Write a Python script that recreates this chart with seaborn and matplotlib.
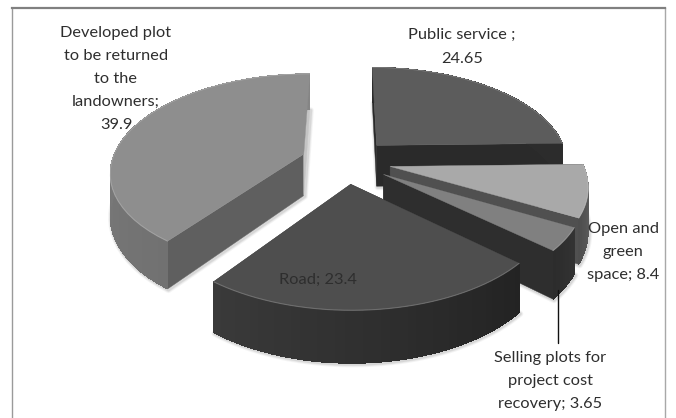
import numpy as np
import matplotlib
matplotlib.use("Agg")
import matplotlib.pyplot as plt
from matplotlib.patches import Polygon
import seaborn as sns

# Land allocation shares, clockwise from twelve o'clock
categories = ["Public service", "Open and green space",
              "Selling plots for project cost recovery", "Road",
              "Developed plot to be returned to the landowners"]
shares = [24.65, 8.4, 3.65, 23.4, 39.9]
label_lines = ["Public service ;\n24.65", "Open and\ngreen\nspace; 8.4",
               "Selling plots for\nproject cost\nrecovery; 3.65", "Road; 23.4",
               "Developed plot\nto be returned\nto the\nlandowners;\n39.9"]
label_spots = [(462, 47), (623, 252), (550, 381), (318, 280), (116, 79)]

# Shades per slice: top face, arc wall (start, end), start wall, end wall
top_shades = ["#5c5c5c", "#a9a9a9", "#808080", "#4e4e4e", "#8e8e8e"]
arc_shades = [("#2c2c2c", "#2c2c2c"), ("#6a6a6a", "#4e4e4e"), ("#333333", "#2c2c2c"),
              ("#232323", "#3a3a3a"), ("#717171", "#858585")]
start_shades = ["#2a2a2a", "#2c2c2c", "#2e2e2e", "#242424", "#5f5f5f"]
end_shades = ["#2a2a2a", "#505050", "#2e2e2e", "#3a3a3a", "#c4c4c4"]

CENTER = (346.0, 161.0)
RADIUS = 192.0
SQUASH = 0.5
PERSPECTIVE = 0.168
EXPLODE = 45.0
HEIGHT = 42.0

sns.set_theme(style="white")
plt.rcParams["font.family"] = ["Lato", "DejaVu Sans"]

fig = plt.figure(figsize=(6.76, 4.18), dpi=100, facecolor="white")
ax = fig.add_axes([11.5 / 676, 0, (665 - 11.5) / 676, (418 - 8) / 418])
ax.set_xlim(11.5, 665)
ax.set_ylim(418, 8)
ax.set_xticks([])
ax.set_yticks([])
ax.spines["bottom"].set_visible(False)
ax.spines["top"].set_color("#808080")
ax.spines["top"].set_linewidth(1.6)
ax.spines["left"].set_color("#9a9a9a")
ax.spines["left"].set_linewidth(1.0)
ax.spines["right"].set_color("#a8a8a8")
ax.spines["right"].set_linewidth(1.0)


def project(wx, wy, drop=0.0):
    """Map ground-plane points to the canvas with a simple perspective."""
    d = 1 + PERSPECTIVE * np.asarray(wy) / RADIUS
    return np.column_stack([CENTER[0] + np.asarray(wx) / d,
                            CENTER[1] - SQUASH * np.asarray(wy) / d + drop / d])


def blend(c0, c1, t):
    a, b = np.array(matplotlib.colors.to_rgb(c0)), np.array(matplotlib.colors.to_rgb(c1))
    return a + (b - a) * t


edges = np.radians(np.cumsum([0.0] + shares) * 3.6)
draw_order = [0, 4, 1, 2, 3]

for i in draw_order:
    t0, t1 = edges[i], edges[i + 1]
    mid = (t0 + t1) / 2
    ex, ey = EXPLODE * np.sin(mid), EXPLODE * np.cos(mid)
    th = np.linspace(t0, t1, 40)
    wx = ex + RADIUS * np.sin(th)
    wy = ey + RADIUS * np.cos(th)
    rim_top = project(wx, wy)
    rim_low = project(wx, wy, HEIGHT)
    apex_top = project([ex], [ey])
    apex_low = project([ex], [ey], HEIGHT)

    # Soft drop shadow below the solid
    outline = np.vstack([apex_low, rim_low])
    for lw, alpha in [(4.5, 0.04), (3.2, 0.05), (2, 0.07)]:
        ax.add_patch(Polygon(outline + [1, 1], closed=True, facecolor="none",
                             edgecolor=(0, 0, 0, alpha), linewidth=lw,
                             joinstyle="round"))

    # Radial walls
    ax.add_patch(Polygon(np.vstack([apex_top, rim_top[0], rim_low[0], apex_low]),
                         closed=True, facecolor=start_shades[i], edgecolor=start_shades[i], lw=0.3))
    ax.add_patch(Polygon(np.vstack([apex_top, rim_top[-1], rim_low[-1], apex_low]),
                         closed=True, facecolor=end_shades[i], edgecolor=end_shades[i], lw=0.3))

    # Curved outer wall, shaded in overlapping strips so no seams show
    for j in range(len(th) - 1):
        shade = blend(arc_shades[i][0], arc_shades[i][1], j / (len(th) - 2))
        k = min(j + 2, len(th) - 1)
        ax.add_patch(Polygon(np.vstack([rim_top[j], rim_top[j + 1:k + 1], rim_low[j + 1:k + 1][::-1], rim_low[j]]),
                             closed=True, facecolor=shade, edgecolor="none", antialiased=False))

    # Top face with a faint highlight along the rim
    ax.add_patch(Polygon(np.vstack([apex_top, rim_top]), closed=True,
                         facecolor=top_shades[i], edgecolor=top_shades[i], lw=0.3))
    ax.plot(rim_top[:, 0], rim_top[:, 1], color="white", alpha=0.22, lw=0.8)

# Leader from the small slice to its label
ax.plot([558, 558], [290, 343], color="#111111", lw=1.0)

for text, (x, y) in zip(label_lines, label_spots):
    ax.text(x, y, text, ha="center", va="center", fontsize=11.8, color="#2e2e2e",
            linespacing=1.84)

fig.savefig("out.png", dpi=100)
